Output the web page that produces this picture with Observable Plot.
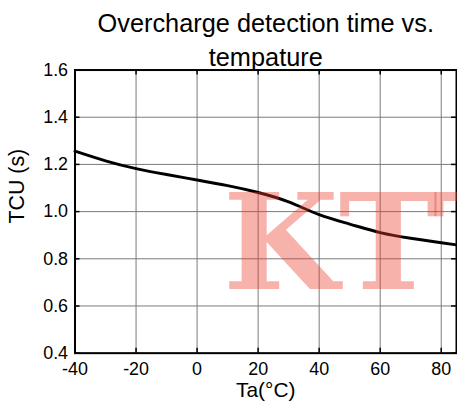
<!DOCTYPE html>
<html>
<head>
<meta charset="utf-8">
<script src="https://cdn.jsdelivr.net/npm/d3@7"></script>
<script src="https://cdn.jsdelivr.net/npm/@observablehq/plot@0.6"></script>
<style>
  html, body { margin: 0; padding: 0; background: #fff; overflow: hidden; width: 457px; height: 410px; }
  #chart { position: relative; width: 457px; height: 410px; overflow: hidden; }
</style>
</head>
<body>
<div id="chart"></div>
<script>
const temperature = [-40, -30, -20, -10, 0, 10, 20, 30, 40, 50, 60, 70, 80, 85];
const tcu = [1.256, 1.215, 1.182, 1.157, 1.134, 1.110, 1.081, 1.041, 0.987, 0.947, 0.911, 0.887, 0.868, 0.859];
const xTicks = [-40, -20, 0, 20, 40, 60, 80];
const yTicks = [0.4, 0.6, 0.8, 1.0, 1.2, 1.4, 1.6];
const titleLines = ["Overcharge detection time vs.", "tempature"];
const xLabel = "Ta(°C)";
const yLabel = "TCU (s)";
const watermark = "KTT";

const data = temperature.map((t, i) => ({t, v: tcu[i]}));
const font = "Liberation Sans, Arial, Helvetica, sans-serif";

const W = 460, H = 410, mL = 75, mR = 1, mT = 70, mB = 55;
const plotW = W - mL - mR, plotH = H - mT - mB;

const chart = Plot.plot({
  width: W,
  height: H,
  marginLeft: mL,
  marginRight: mR,
  marginTop: mT,
  marginBottom: mB,
  style: {fontFamily: font, background: "white", overflow: "visible"},
  x: {domain: [-40, 85], ticks: xTicks},
  y: {domain: [0.4, 1.6], ticks: yTicks},
  marks: [
    Plot.gridX(xTicks, {stroke: "#7a7a7a", strokeOpacity: 1, strokeWidth: 1}),
    Plot.gridY(yTicks, {stroke: "#7a7a7a", strokeOpacity: 1, strokeWidth: 1}),
    // inward ticks
    Plot.ruleX(xTicks, {x: d => d, insetTop: plotH - 5, stroke: "black", strokeWidth: 1.5}),
    Plot.ruleX(xTicks, {x: d => d, insetBottom: plotH - 5, stroke: "black", strokeWidth: 1.5}),
    Plot.ruleY(yTicks, {y: d => d, insetRight: plotW - 5, stroke: "black", strokeWidth: 1.5}),
    Plot.ruleY(yTicks, {y: d => d, insetLeft: plotW - 5, stroke: "black", strokeWidth: 1.5}),
    Plot.line(data, {x: "t", y: "v", curve: "natural", stroke: "black", strokeWidth: 3}),
    Plot.frame({stroke: "black", strokeWidth: 2}),
    Plot.axisX(xTicks, {tickSize: 0, tickPadding: 9, fontSize: 18, fill: "black", label: null, tickFormat: d => String(d)}),
    Plot.axisY(yTicks, {tickSize: 0, tickPadding: 7, fontSize: 18, fill: "black", label: null, tickFormat: d => d.toFixed(1)}),
    Plot.text([xLabel], {frameAnchor: "bottom", dy: 44, lineAnchor: "bottom", fontSize: 21, fill: "black"}),
    Plot.text([yLabel], {frameAnchor: "left", dx: -58, dy: 12, rotate: -90, fontSize: 21.5, fill: "black", lineAnchor: "middle"}),
    Plot.text([titleLines[0]], {frameAnchor: "top", dy: -38, lineAnchor: "bottom", fontSize: 25.5, fill: "black"}),
    Plot.text([titleLines[1]], {frameAnchor: "top", dy: -4, lineAnchor: "bottom", fontSize: 25.5, fill: "black"}),
    Plot.text([watermark], {frameAnchor: "bottom-left", dx: 149, dy: -65, textAnchor: "start", lineAnchor: "bottom",
      fontSize: 134, fontFamily: "DejaVu Serif", fontWeight: "bold",
      fill: "rgb(232,62,45)", fillOpacity: 0.4})
  ]
});
document.getElementById("chart").appendChild(chart);
</script>
</body>
</html>
